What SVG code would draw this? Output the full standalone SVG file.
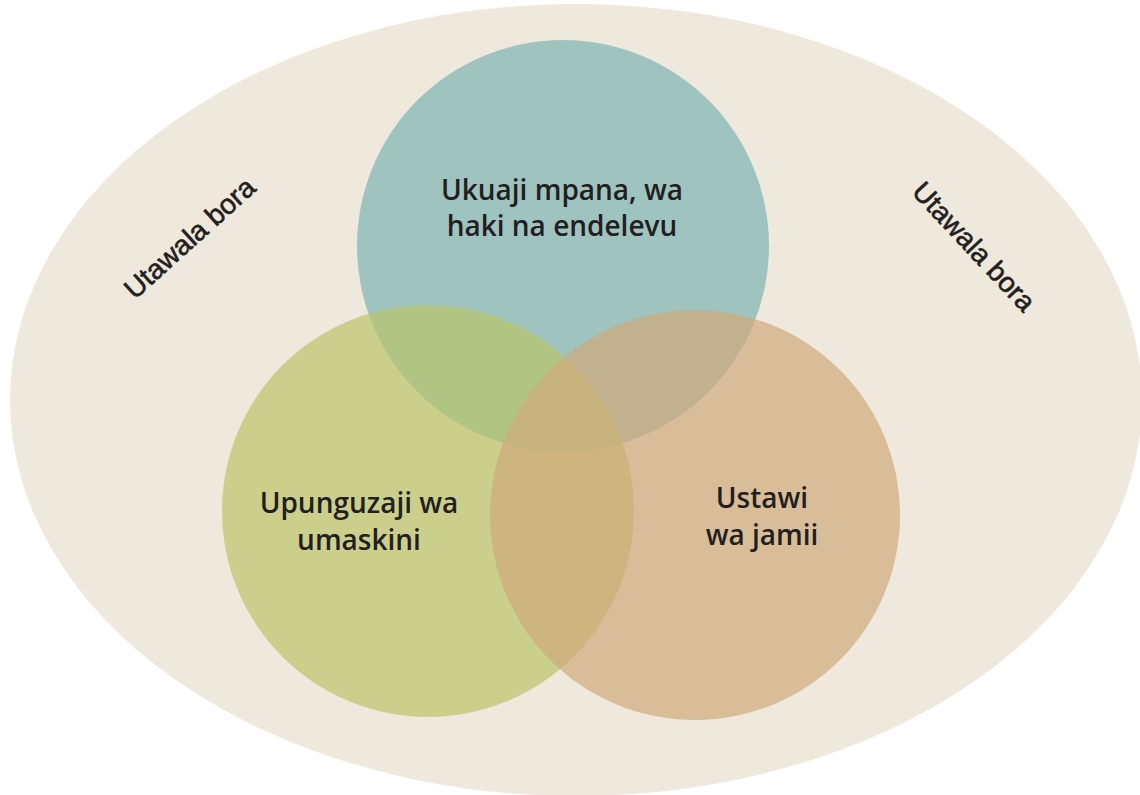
<svg xmlns="http://www.w3.org/2000/svg" width="1140" height="795" viewBox="0 0 1140 795">
<style>
.lbl{font-family:"Open Sans","Liberation Sans",sans-serif;font-weight:600;font-size:28px;fill:#231f20;text-anchor:middle}
.gov{font-family:"Liberation Sans",Arial,sans-serif;font-size:28px;fill:#231f20;stroke:#231f20;stroke-width:0.6;text-anchor:middle}
</style>
<rect width="1140" height="795" fill="#ffffff"/>
<g id="governance">
<ellipse cx="576" cy="400" rx="566" ry="396" fill="#efe9dd"/>
<text class="gov" transform="translate(196,245) rotate(-42)">Utawala bora</text>
<text class="gov" transform="translate(967,253) rotate(47)">Utawala bora</text>
</g>
<g id="growth">
<circle cx="563" cy="246" r="206" fill="#7db4b4" fill-opacity="0.7"/>
<text class="lbl" x="562" y="200">Ukuaji mpana, wa</text>
<text class="lbl" x="562" y="236">haki na endelevu</text>
</g>
<g id="poverty">
<circle cx="428" cy="511" r="206" fill="#bac569" fill-opacity="0.7"/>
<text class="lbl" x="359" y="513">Upunguzaji wa</text>
<text class="lbl" x="359" y="550">umaskini</text>
</g>
<g id="welfare">
<circle cx="695" cy="515" r="205" fill="#d0aa7a" fill-opacity="0.7"/>
<text class="lbl" x="762" y="508">Ustawi</text>
<text class="lbl" x="762" y="545">wa jamii</text>
</g>
</svg>
